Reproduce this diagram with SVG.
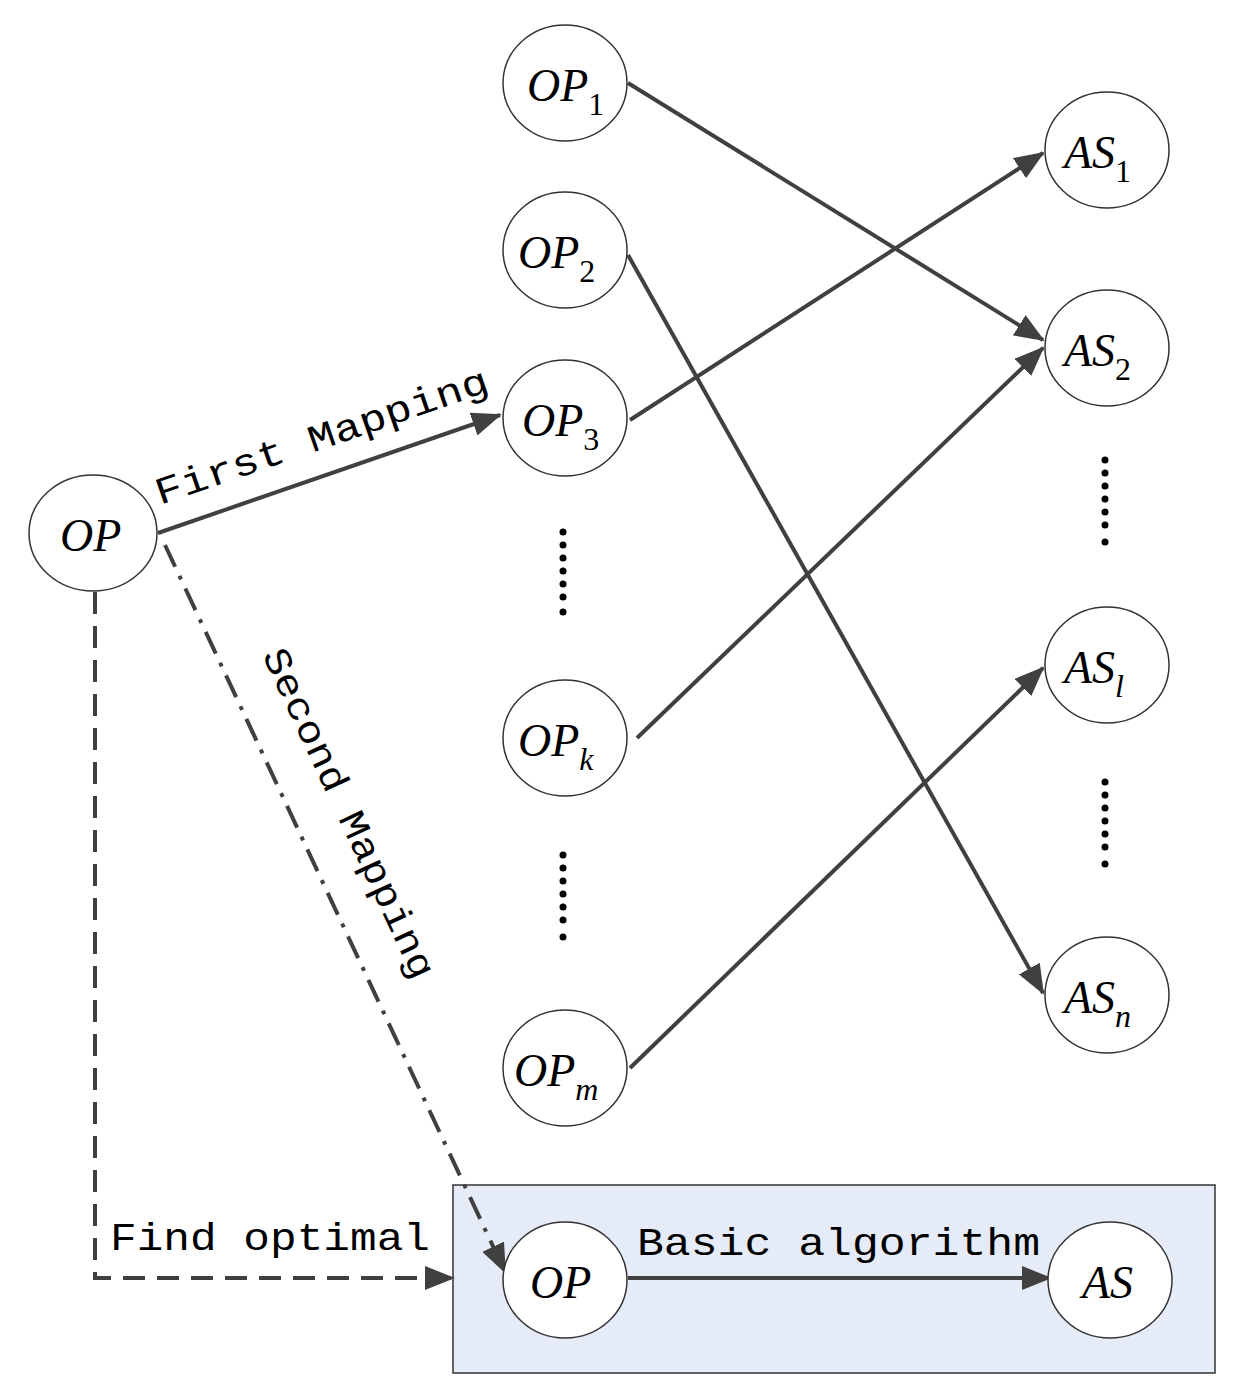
<svg xmlns="http://www.w3.org/2000/svg" width="1238" height="1398" viewBox="0 0 1238 1398">
<style>
.n{fill:#fff;stroke:#333;stroke-width:1.5}
.t{font-family:"Liberation Serif",serif;font-style:italic;font-size:46px;fill:#000}
.s{font-size:32px}
.l{font-family:"Liberation Mono",monospace;font-size:38px;fill:#000}
.e{stroke:#404040;stroke-width:4;fill:none}
.d{fill:#000}
</style>
<defs>
<marker id="A" viewBox="0 0 30 24" refX="28" refY="12" markerWidth="30" markerHeight="24" orient="auto" markerUnits="userSpaceOnUse"><path d="M0,0L30,12L0,24z" fill="#404040"/></marker></defs>
<rect x="453" y="1185" width="762" height="188" fill="#e6ecf7" stroke="#333" stroke-width="1.5"/>
<g id="connectors">
<line class="e" x1="628" y1="83" x2="1043" y2="340" marker-end="url(#A)"/>
<line class="e" x1="628" y1="255" x2="1043" y2="993" marker-end="url(#A)"/>
<line class="e" x1="630" y1="420" x2="1043" y2="153" marker-end="url(#A)"/>
<line class="e" x1="637" y1="738" x2="1043" y2="348" marker-end="url(#A)"/>
<line class="e" x1="630" y1="1068" x2="1043" y2="668" marker-end="url(#A)"/>
<line class="e" x1="158" y1="533" x2="500" y2="415" marker-end="url(#A)"/>
<line class="e" x1="165" y1="545" x2="505" y2="1272" stroke-dasharray="24,10,4,10" marker-end="url(#A)"/>
<polyline class="e" points="95,592 95,1278 453,1278" stroke-dasharray="22,12" marker-end="url(#A)"/>
<line class="e" x1="628" y1="1278" x2="1050" y2="1278" marker-end="url(#A)"/>
</g>
<g class="d">
<circle cx="563" cy="532" r="3.5"/><circle cx="563" cy="545" r="3.5"/><circle cx="563" cy="558" r="3.5"/><circle cx="563" cy="571" r="3.5"/><circle cx="563" cy="584" r="3.5"/><circle cx="563" cy="597" r="3.5"/><circle cx="563" cy="612" r="3.5"/>
<circle cx="563" cy="855" r="3.5"/><circle cx="563" cy="868" r="3.5"/><circle cx="563" cy="881" r="3.5"/><circle cx="563" cy="894" r="3.5"/><circle cx="563" cy="907" r="3.5"/><circle cx="563" cy="920" r="3.5"/><circle cx="563" cy="937" r="3.5"/>
<circle cx="1105" cy="460" r="3.5"/><circle cx="1105" cy="473" r="3.5"/><circle cx="1105" cy="486" r="3.5"/><circle cx="1105" cy="499" r="3.5"/><circle cx="1105" cy="512" r="3.5"/><circle cx="1105" cy="525" r="3.5"/><circle cx="1105" cy="542" r="3.5"/>
<circle cx="1105" cy="782" r="3.5"/><circle cx="1105" cy="795" r="3.5"/><circle cx="1105" cy="808" r="3.5"/><circle cx="1105" cy="821" r="3.5"/><circle cx="1105" cy="834" r="3.5"/><circle cx="1105" cy="847" r="3.5"/><circle cx="1105" cy="864" r="3.5"/>
</g>
<g id="OP"><ellipse class="n" cx="93" cy="533" rx="64" ry="58"/><text class="t" x="60" y="551">OP</text></g>
<g id="OP1"><ellipse class="n" cx="565" cy="83" rx="62" ry="58"/><text class="t" x="527" y="101">OP<tspan class="s" dy="14" font-style="normal">1</tspan></text></g>
<g id="OP2"><ellipse class="n" cx="565" cy="250" rx="62" ry="58"/><text class="t" x="518" y="268">OP<tspan class="s" dy="14" font-style="normal">2</tspan></text></g>
<g id="OP3"><ellipse class="n" cx="565" cy="418" rx="62" ry="58"/><text class="t" x="522" y="436">OP<tspan class="s" dy="14" font-style="normal">3</tspan></text></g>
<g id="OPk"><ellipse class="n" cx="565" cy="738" rx="62" ry="58"/><text class="t" x="518" y="756">OP<tspan class="s" dy="14">k</tspan></text></g>
<g id="OPm"><ellipse class="n" cx="565" cy="1068" rx="62" ry="58"/><text class="t" x="514" y="1086">OP<tspan class="s" dy="14">m</tspan></text></g>
<g id="AS1"><ellipse class="n" cx="1107" cy="150" rx="62" ry="58"/><text class="t" x="1064" y="168">AS<tspan class="s" dy="14" font-style="normal">1</tspan></text></g>
<g id="AS2"><ellipse class="n" cx="1107" cy="348" rx="62" ry="58"/><text class="t" x="1064" y="366">AS<tspan class="s" dy="14" font-style="normal">2</tspan></text></g>
<g id="ASl"><ellipse class="n" cx="1107" cy="665" rx="62" ry="58"/><text class="t" x="1064" y="683">AS<tspan class="s" dy="14">l</tspan></text></g>
<g id="ASn"><ellipse class="n" cx="1107" cy="995" rx="62" ry="58"/><text class="t" x="1064" y="1013">AS<tspan class="s" dy="14">n</tspan></text></g>
<g id="OPb"><ellipse class="n" cx="565" cy="1280" rx="62" ry="58"/><text class="t" x="530" y="1298">OP</text></g>
<g id="ASb"><ellipse class="n" cx="1110" cy="1280" rx="62" ry="58"/><text class="t" x="1082" y="1298">AS</text></g>
<text class="l" transform="translate(160,505) rotate(-19)" textLength="350" lengthAdjust="spacingAndGlyphs">First Mapping</text>
<text class="l" transform="translate(262,655) rotate(65)" textLength="360" lengthAdjust="spacingAndGlyphs">Second Mapping</text>
<text class="l" x="110" y="1250" textLength="320" lengthAdjust="spacingAndGlyphs">Find optimal</text>
<text class="l" x="637" y="1255" textLength="403" lengthAdjust="spacingAndGlyphs">Basic algorithm</text>
</svg>
